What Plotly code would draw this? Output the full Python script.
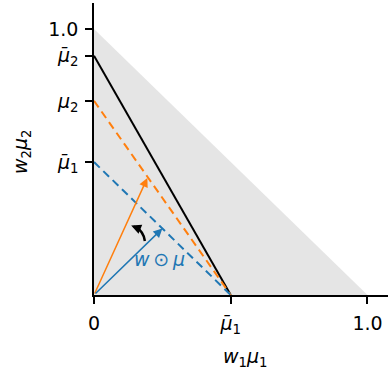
import plotly.graph_objects as go

# data
mu1_bar = 0.5
mu2 = 0.73
mu2_bar = 0.90
simplex_x = [0, 0, 1, 0]
simplex_y = [0, 1, 0, 0]
orange_tip = (0.195, 0.44)
blue_tip = (0.25, 0.25)
xtick_vals = [0, mu1_bar, 1.0]
xtick_text = ["0", "<i>μ̄</i><sub>1</sub>", "1.0"]
ytick_vals = [mu1_bar, mu2, mu2_bar, 1.0]
ytick_text = ["<i>μ̄</i><sub>1</sub>", "<i>μ</i><sub>2</sub>", "<i>μ̄</i><sub>2</sub>", "1.0"]

BLUE = "#1f77b4"
ORANGE = "#ff7f0e"
FONT = "DejaVu Sans"
FS = 19

fig = go.Figure()
fig.add_trace(go.Scatter(x=simplex_x, y=simplex_y, fill="toself", fillcolor="#e5e5e5",
                         line=dict(width=0), mode="lines", hoverinfo="skip"))
fig.add_trace(go.Scatter(x=[0, mu1_bar], y=[mu2_bar, 0], mode="lines",
                         line=dict(color="black", width=2)))
fig.add_trace(go.Scatter(x=[0, mu1_bar], y=[mu2, 0], mode="lines",
                         line=dict(color=ORANGE, width=2, dash="8px,5px")))
fig.add_trace(go.Scatter(x=[0, mu1_bar], y=[mu1_bar, 0], mode="lines",
                         line=dict(color=BLUE, width=2, dash="8px,5px")))

for tip, col in [(orange_tip, ORANGE), (blue_tip, BLUE)]:
    fig.add_annotation(x=tip[0], y=tip[1], ax=0, ay=0, xref="x", yref="y",
                       axref="x", ayref="y", text="", showarrow=True,
                       arrowhead=2, arrowsize=1.2, arrowwidth=1.5, arrowcolor=col)

# curved rotation arrow
fig.add_shape(type="path", path="M 0.186,0.203 Q 0.181,0.240 0.152,0.254",
              xref="x", yref="y", line=dict(color="black", width=2.5))
fig.add_annotation(x=0.136, y=0.261, ax=5, ay=2, xref="x", yref="y", text="",
                   showarrow=True, arrowhead=2, arrowsize=0.9, arrowwidth=2.2,
                   arrowcolor="black")

fig.add_annotation(x=0.241, y=0.135, xref="x", yref="y", showarrow=False,
                   text="<i>w</i>\u2009⊙\u2009<i>μ</i>", font=dict(color=BLUE, size=FS, family=FONT))

# axis titles
fig.add_annotation(text="<i>w</i><sub>1</sub><i>μ</i><sub>1</sub>", xref="paper", yref="paper",
                   x=(245 - 94) / 294, y=-(357 - 295) / 292, showarrow=False,
                   xanchor="center", yanchor="middle",
                   font=dict(size=FS, family=FONT, color="black"))
fig.add_annotation(text="<i>w</i><sub>2</sub><i>μ</i><sub>2</sub>", xref="paper", yref="paper",
                   x=-(94 - 22) / 294, y=(295 - 152) / 292, showarrow=False, textangle=-90,
                   xanchor="center", yanchor="middle",
                   font=dict(size=FS, family=FONT, color="black"))

fig.update_layout(
    width=388, height=370, showlegend=False,
    margin=dict(l=94, r=0, t=3, b=75),
    plot_bgcolor="white", paper_bgcolor="white",
    font=dict(family=FONT, size=FS, color="black"),
    xaxis=dict(range=[0, 1.075], tickvals=xtick_vals, ticktext=xtick_text,
               showgrid=False, zeroline=False, showline=True, linecolor="black",
               linewidth=1.5, ticks="outside", ticklen=7, tickwidth=1.5, tickcolor="black",
               ticklabelstandoff=3, tickfont=dict(size=FS, family=FONT)),
    yaxis=dict(range=[0, 1.098], tickvals=ytick_vals, ticktext=ytick_text,
               showgrid=False, zeroline=False, showline=True, linecolor="black",
               linewidth=1.5, ticks="outside", ticklen=7, tickwidth=1.5, tickcolor="black",
               ticklabelstandoff=3, tickfont=dict(size=FS, family=FONT)),
)

fig.write_html("out.html")
